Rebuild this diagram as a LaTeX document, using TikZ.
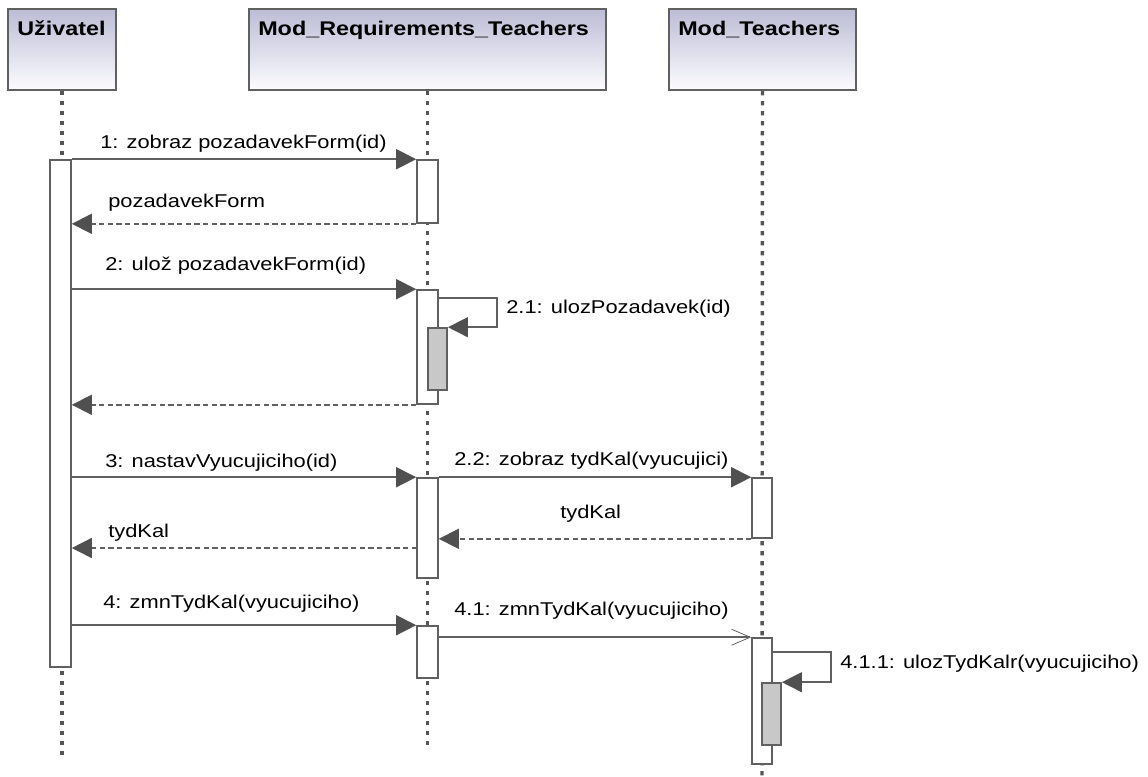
\documentclass[tikz,border=0pt]{standalone}
\usepackage{fontspec}
\setmainfont{Liberation Sans}[FakeStretch=1.18]
\usetikzlibrary{arrows.meta,calc}
\definecolor{linec}{RGB}{96,96,96}
\definecolor{lifec}{RGB}{85,85,85}
\definecolor{headc}{RGB}{80,80,80}
\definecolor{topc}{RGB}{188,188,214}
\definecolor{botc}{RGB}{252,252,254}
\definecolor{nestc}{RGB}{200,200,200}
\begin{document}
\begin{tikzpicture}[x=0.75pt,y=-0.75pt,
  head/.style={draw=linec, line width=1.5pt, top color=topc, bottom color=botc, inner sep=0pt, minimum height=60.75pt},
  htext/.style={font=\bfseries\fontsize{14.85}{17}\selectfont, anchor=base west, inner sep=0pt},
  life/.style={draw=lifec, line width=2.6pt, dash pattern=on 3.2pt off 4.3pt},
  act/.style={draw=linec, line width=1.2pt, fill=white, inner sep=0pt, minimum width=15.75pt},
  nest/.style={act, fill=nestc, minimum width=14.5pt},
  msg/.style={draw=linec, line width=1.2pt, -{Triangle[length=15pt,width=15pt,fill=headc,color=headc]}},
  ret/.style={msg, dash pattern=on 4pt off 2.5pt},
  async/.style={draw=linec, line width=1.2pt, -{Straight Barb[length=14pt,width=12pt,line width=0.6pt]}},
  lbl/.style={font=\fontsize{13.9}{16}\selectfont, anchor=base west, inner sep=0pt}
]
\useasboundingbox (0,0) rectangle (1148,776);

% headers
\node[head, minimum width=81pt] (hU) at (62,49.5) {};
\node[head, minimum width=267.75pt] (hR) at (427.5,49.5) {};
\node[head, minimum width=140.25pt] (hT) at (762.5,49.5) {};
\node[htext] (tU) at (17,35) {Uživatel};
\node[htext] (tR) at (258,35) {Mod\_Requirements\_Teachers};
\node[htext] (tT) at (678,35) {Mod\_Teachers};

% lifeline ends
\coordinate (eU) at (61.5,755);
\coordinate (eR) at (427.5,745);
\coordinate (eT) at (762,776);
\draw[life] (hU.south |- 0,91) -- (hU.south |- eU);
\draw[life] (hR.south) -- (eR);
\draw[life] (hT.south) -- (eT);

% activations
\node[act, minimum height=380.25pt] (uA) at (60.5,413.5) {};
\node[act, minimum height=47.25pt] (rA1) at (427.5,191.5) {};
\node[act, minimum height=85.5pt] (rA2) at (427.5,347) {};
\node[nest, minimum height=46.5pt] (rN1) at (437.5,359) {};
\node[act, minimum height=75pt] (rA3) at (427.5,528) {};
\node[act, minimum width=15pt, minimum height=45pt] (tA1) at (762,508) {};
\node[act, minimum height=39pt] (rA4) at (427.5,652) {};
\node[act, minimum width=15pt, minimum height=94.5pt] (tA2) at (762,701) {};
\node[nest, minimum height=46.5pt] (tN2) at (771.5,714) {};

% messages
\draw[msg] (uA.north east) -- (rA1.north west);
\draw[ret] (rA1.south west) -- (uA.east |- rA1.south west);
\draw[msg] (uA.east |- rA2.north) -- (rA2.north west);
\coordinate (s1) at (438,298);
\draw[msg] (s1) -- ++(59,0) |- (rN1.north east);
\draw[ret] (rA2.south west) -- (uA.east |- rA2.south);
\draw[msg] (uA.east |- rA3.north) -- (rA3.north west);
\draw[msg] (rA3.north east) -- (tA1.north west);
\draw[ret] (tA1.south west) -- (rA3.east |- tA1.south);
\coordinate (m8) at (417,548);
\draw[ret] (m8) -- (uA.east |- m8);
\draw[msg] (uA.east |- rA4.north) -- (rA4.north west);
\draw[async] (rA4.east |- tA2.north) -- (tA2.north west);
\coordinate (s2) at (772,652);
\draw[msg] (s2) -- ++(59,0) |- (tN2.north east);

% labels
\node[lbl] (l1) at (100,148) {1: zobraz pozadavekForm(id)};
\node[lbl] (l2) at (108,207) {pozadavekForm};
\node[lbl] (l3) at (105,270) {2: ulož pozadavekForm(id)};
\node[lbl] (l4) at (506,313) {2.1: ulozPozadavek(id)};
\node[lbl] (l5) at (105,467) {3: nastavVyucujiciho(id)};
\node[lbl] (l6) at (454,465) {2.2: zobraz tydKal(vyucujici)};
\node[lbl] (l7) at (560,518) {tydKal};
\node[lbl] (l8) at (108,537) {tydKal};
\node[lbl] (l9) at (103,608) {4: zmnTydKal(vyucujiciho)};
\node[lbl] (l10) at (454,615) {4.1: zmnTydKal(vyucujiciho)};
\node[lbl] (l11) at (840,668) {4.1.1: ulozTydKalr(vyucujiciho)};
\end{tikzpicture}
\end{document}
